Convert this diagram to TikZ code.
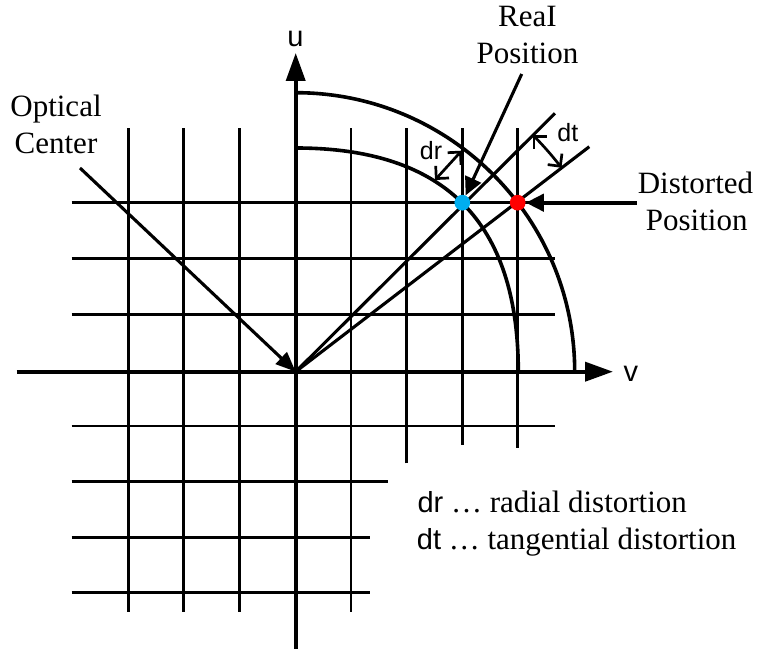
\documentclass[tikz,border=0pt]{standalone}
\usepackage{fontspec}
\setmainfont{Liberation Serif}
\newfontfamily\serifface{Liberation Serif}
\newfontfamily\arialfont{Liberation Sans}
\usetikzlibrary{arrows.meta,calc}
\definecolor{realblue}{RGB}{0,174,239}
\begin{document}
\begin{tikzpicture}[x=1pt,y=1pt,
  gridline/.style={line width=2.6pt},
  axisline/.style={line width=3.8pt, -{Triangle[length=28pt,width=19pt]}},
  arcline/.style={line width=3.6pt},
  rayline/.style={line width=3.1pt},
  callout/.style={line width=3.1pt},
  barbs/.style={line width=2.7pt, {Straight Barb[length=9pt,width=18pt]}-{Straight Barb[length=9pt,width=18pt]}},
  serif/.style={font=\serifface\fontsize{31}{37}\selectfont, inner sep=0pt},
  sans/.style={font=\arialfont\fontsize{29}{34}\selectfont, inner sep=0pt},
  small/.style={font=\arialfont\fontsize{25}{30}\selectfont, inner sep=0pt},
  dot/.style={circle, inner sep=0pt, minimum size=15.7pt}
]
\useasboundingbox (0,0) rectangle (758,650);
% grid
\foreach \x in {128.3,183.7,239.3,351} \draw[gridline] (\x,38.3) -- (\x,521.7);
\draw[gridline] (406.7,186.7) -- (406.7,521.7);
\draw[gridline] (462.3,205) -- (462.3,521.7);
\draw[gridline] (517.7,202) -- (517.7,521.7);
\foreach \y in {447.3,391.3,335.7,224} \draw[gridline] (71.7,\y) -- (555,\y);
\draw[gridline] (71.7,168.3) -- (388.3,168.3);
\foreach \y in {112.7,57.3} \draw[gridline] (71.7,\y) -- (370,\y);
% axes
\coordinate (O) at (295.7,278.3);
\coordinate (ubot) at (295.7,1);
\coordinate (utop) at (295.7,597);
\coordinate (vleft) at (16.7,278.3);
\coordinate (vright) at (613,278.3);
\draw[axisline] (ubot) -- (utop);
\draw[axisline] (vleft) -- (vright);
% arcs
\draw[arcline] ($(O)+(90:279)$) arc[start angle=90,end angle=0,radius=279];
\draw[arcline] (295.7,502) .. controls (444.8,502) and (518.3,428.2) .. (518.3,278.3);
% rays
\coordinate (r1) at (555,536.7);
\coordinate (r2) at (589.3,503.3);
\draw[rayline] (O) -- (r1);
\draw[rayline] (O) -- (r2);
% dots
\node[dot, fill=realblue] (real) at (462.3,447.3) {};
\node[dot, fill=red] (dist) at (517.7,447.3) {};
% dr and dt
\coordinate (dra) at (435,470);
\coordinate (drb) at (461.7,499.3);
\draw[barbs] (dra) -- (drb);
\draw[barbs] ($(O)+(45:335)$) arc[start angle=45,end angle=37.5,radius=335];
% callouts
\coordinate (rps) at (521.7,576);
\draw[callout, -{Triangle[length=18pt,width=17pt]}] (rps) -- (real);
\coordinate (dps) at (636.7,447.3);
\draw[line width=4pt, -{Triangle[length=18pt,width=17pt]}] (dps) -- (dist);
\coordinate (ocs) at (80,482);
\draw[callout, -{Triangle[length=20pt,width=16pt]}] (ocs) -- (O);
% labels
\node[sans, anchor=base] (ulab) at (295.5,603.3) {u};
\node[sans, anchor=base] (vlab) at (630.8,268.3) {v};
\node[small, anchor=base] (drlab) at (431,490) {dr};
\node[small, anchor=base] (dtlab) at (567.8,508.3) {dt};
\node[serif, anchor=base] (opt1) at (56,533.3) {Optical};
\node[serif, anchor=base] (opt2) at (56,496) {Center};
\node[serif, anchor=base] (rp1) at (527.5,623.3) {ReaI};
\node[serif, anchor=base] (rp2) at (527.5,586) {Position};
\node[serif, anchor=base] (dp1) at (695.5,456.7) {Distorted};
\node[serif, anchor=base] (dp2) at (696.7,419.3) {Position};
\node[serif, anchor=base west] (leg1) at (417.3,137.3) {{\arialfont\fontsize{29}{34}\selectfont dr} … radial distortion};
\node[serif, anchor=base west] (leg2) at (416.7,100) {{\arialfont\fontsize{29}{34}\selectfont dt} … tangential distortion};
\end{tikzpicture}
\end{document}
